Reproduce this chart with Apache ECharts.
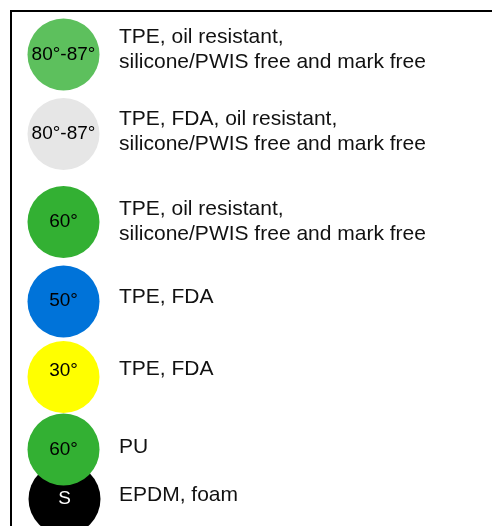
<!DOCTYPE html>
<html>
<head>
<meta charset="utf-8">
<script src="https://cdn.jsdelivr.net/npm/echarts@6/dist/echarts.min.js"></script>
<style>
  html, body { margin: 0; padding: 0; background: #fff; }
  #chart { width: 492px; height: 526px; }
</style>
</head>
<body>
<div id="chart"></div>
<script>
// hardness printed in each dot
var hardness = ['80°-87°', '80°-87°', '60°', '50°', '30°', '60°', 'S']
// material descriptions
var materials = [
  'TPE, oil resistant,\nsilicone/PWIS free and mark free',
  'TPE, FDA, oil resistant,\nsilicone/PWIS free and mark free',
  'TPE, oil resistant,\nsilicone/PWIS free and mark free',
  'TPE, FDA',
  'TPE, FDA',
  'PU',
  'EPDM, foam'
]
// dot colours
var dotColors = ['#5dc05d', '#e6e6e6', '#33b033', '#0073d9', '#ffff00', '#33b033', '#000000']
var labelColors = ['#000', '#000', '#000', '#000', '#000', '#000', '#fff']

// layout (pixel space of the hidden axes)
var dotX = [63.5, 63.5, 63.5, 63.5, 63.5, 63.5, 64.5]
var dotY = [54.5, 134, 222, 301.5, 377, 449.5, 499]
var dotLabelY = [54.5, 134, 222, 301, 371, 450, 499]
var textX = 119
var textY = [50, 132, 222, 297, 369, 447, 495]

var font = "'Liberation Sans', Arial, Helvetica, sans-serif"

var dots = []
var texts = []
// reversed so upper dots paint over lower ones (green PU over black EPDM)
for (var i = hardness.length - 1; i >= 0; i--) {
  dots.push({
    value: [dotX[i], dotY[i]],
    itemStyle: { color: dotColors[i], opacity: 1 },
    label: {
      color: labelColors[i],
      offset: [0, dotLabelY[i] - dotY[i]]
    },
    name: hardness[i]
  })
}
for (var j = 0; j < materials.length; j++) {
  texts.push({ value: [textX, textY[j]], name: materials[j] })
}

var myChart = echarts.init(document.getElementById('chart'), null, { renderer: 'canvas' })
myChart.setOption({
  animation: false,
  backgroundColor: '#fff',
  grid: { left: 0, right: 0, top: 0, bottom: 0 },
  xAxis: { type: 'value', min: 0, max: 492, show: false },
  yAxis: { type: 'value', min: 0, max: 526, inverse: true, show: false },
  graphic: [{
    type: 'rect',
    shape: { x: 11, y: 11, width: 500, height: 540 },
    style: { fill: 'none', stroke: '#000', lineWidth: 2 },
    silent: true
  }],
  series: [{
    type: 'scatter',
    symbol: 'circle',
    symbolSize: 72,
    silent: true,
    itemStyle: { opacity: 1 },
    data: dots,
    label: {
      show: true,
      position: 'inside',
      fontFamily: font,
      fontSize: 19,
      opacity: 1,
      formatter: function (p) { return p.name }
    },
    emphasis: { disabled: true }
  }, {
    type: 'scatter',
    symbolSize: 0,
    silent: true,
    itemStyle: { opacity: 1 },
    data: texts,
    label: {
      show: true,
      position: 'right',
      distance: 0,
      align: 'left',
      verticalAlign: 'middle',
      fontFamily: font,
      fontSize: 21,
      lineHeight: 25,
      color: '#111',
      opacity: 1,
      formatter: function (p) { return p.name }
    },
    emphasis: { disabled: true }
  }]
})
</script>
</body>
</html>
